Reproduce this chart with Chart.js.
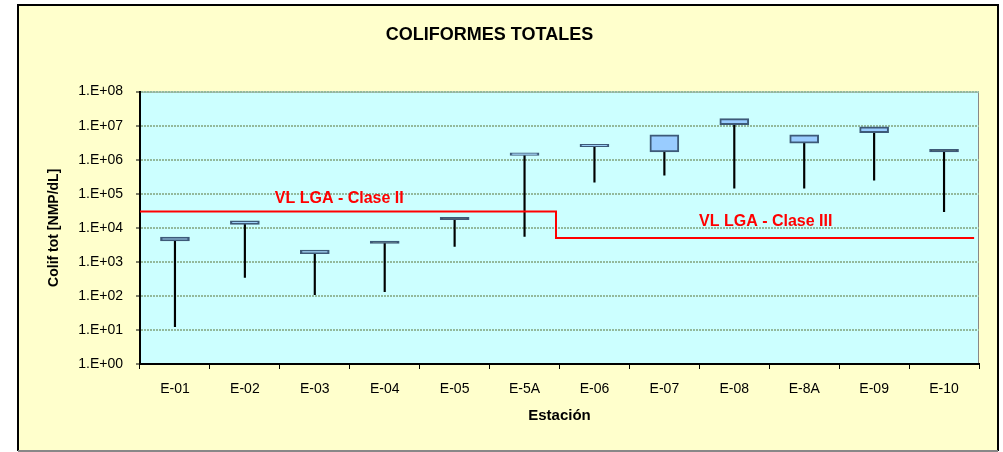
<!DOCTYPE html>
<html>
<head>
<meta charset="utf-8">
<script src="https://cdn.jsdelivr.net/npm/chart.js@4/dist/chart.umd.min.js"></script>
<style>
  body { margin: 0; background: #fff; }
</style>
</head>
<body>
<canvas id="coliformes-chart" width="1003" height="452"></canvas>
<script>
const stations = ["E-01", "E-02", "E-03", "E-04", "E-05", "E-5A", "E-06", "E-07", "E-08", "E-8A", "E-09", "E-10"];
const minValues = [12.5, 350, 108, 134, 2840, 5600, 220000, 350000, 145000, 145000, 250000, 30000];
const boxLow = [4100, 12600, 1730, 3480, 17400, 1330000, 2400000, 1700000, 10700000, 3060000, 6200000, 1700000];
const boxHigh = [5370, 15900, 2220, 3480, 17400, 1600000, 2800000, 5400000, 16000000, 5400000, 9300000, 1700000];

// limit line: x in station units (0 = left edge of E-01)
const limitX = [0, 5.95, 5.95, 11.93];
const limitY = [30000, 30000, 5000, 5000];
const limitLabels = ["VL LGA - Clase II", "VL LGA - Clase III"];
const limitLabelX = [2.85, 8.95];
const limitLabelY = [72000, 15000];

const yTicks = [1, 10, 100, 1e3, 1e4, 1e5, 1e6, 1e7, 1e8];
const yTickLabels = ["1.E+00", "1.E+01", "1.E+02", "1.E+03", "1.E+04", "1.E+05", "1.E+06", "1.E+07", "1.E+08"];

Chart.defaults.font.family = 'Arial, "Liberation Sans", sans-serif';
Chart.defaults.color = "#000";

const background = {
  id: "background",
  beforeDraw(chart) {
    const { ctx, chartArea: a } = chart;
    ctx.save();
    ctx.fillStyle = "#fff";
    ctx.fillRect(0, 0, chart.width, chart.height);
    ctx.fillStyle = "#ffffcc";
    ctx.fillRect(18, 5, 980, 446);
    ctx.strokeStyle = "#000";
    ctx.lineWidth = 2;
    ctx.beginPath();
    ctx.moveTo(18, 451);
    ctx.lineTo(18, 5);
    ctx.lineTo(998, 5);
    ctx.lineTo(998, 451);
    ctx.stroke();
    ctx.strokeStyle = "#888";
    ctx.beginPath();
    ctx.moveTo(18, 451);
    ctx.lineTo(998, 451);
    ctx.stroke();
    ctx.fillStyle = "#ccffff";
    ctx.fillRect(a.left, a.top, a.right - a.left, a.bottom - a.top);
    ctx.strokeStyle = "#888";
    ctx.lineWidth = 1;
    ctx.beginPath();
    ctx.moveTo(a.left, a.top + 0.5);
    ctx.lineTo(a.right - 0.5, a.top + 0.5);
    ctx.lineTo(a.right - 0.5, a.bottom);
    ctx.stroke();
    ctx.restore();
  },
  afterDatasetsDraw(chart) {
    const { ctx, scales } = chart;
    ctx.save();
    ctx.fillStyle = "#ff0000";
    ctx.font = 'bold 16px Arial, "Liberation Sans", sans-serif';
    ctx.textAlign = "center";
    ctx.textBaseline = "middle";
    limitLabels.forEach((t, i) => {
      ctx.fillText(t, scales.xl.getPixelForValue(limitLabelX[i]), scales.y.getPixelForValue(limitLabelY[i]));
    });
    ctx.restore();
  },
};

new Chart(document.getElementById("coliformes-chart"), {
  type: "bar",
  data: {
    labels: stations,
    datasets: [
      {
        type: "line",
        label: "VL LGA",
        xAxisID: "xl",
        data: limitX.map((x, i) => ({ x, y: limitY[i] })),
        borderColor: "#ff0000",
        borderWidth: 2,
        pointRadius: 0,
        fill: false,
      },
      {
        label: "Caja",
        data: stations.map((s, i) => [boxLow[i], boxHigh[i]]),
        // a box with no height is drawn by Excel as a dark cap
        backgroundColor: (c) => (boxLow[c.dataIndex] === boxHigh[c.dataIndex] ? "#2e3f50" : "#99ccff"),
        borderColor: "#3d5a78",
        borderWidth: 2,
        borderSkipped: false,
        barThickness: 29,
        minBarLength: 2.4,
        grouped: false,
      },
      {
        label: "Rango",
        data: stations.map((s, i) => [minValues[i], boxLow[i]]),
        backgroundColor: "#000",
        barThickness: 1.5,
        grouped: false,
      },
    ],
  },
  options: {
    responsive: false,
    animation: false,
    layout: { padding: { left: 0, right: 24, top: 0, bottom: 0 } },
    plugins: {
      legend: { display: false },
      tooltip: { enabled: false },
      title: {
        display: true,
        text: "COLIFORMES TOTALES",
        font: { size: 18, weight: "bold" },
        padding: { top: 24, bottom: 46 },
      },
    },
    scales: {
      x: {
        offset: true,
        grid: { offset: true, drawOnChartArea: false, tickLength: 5, tickColor: "#000", tickWidth: 1 },
        border: { color: "#000", width: 2 },
        ticks: { font: { size: 14 }, padding: 12 },
        title: { display: true, text: "Estación", font: { size: 15, weight: "bold" }, padding: { top: 0, bottom: 27 } },
        afterFit: (scale) => { scale.height = 88; },
      },
      xl: {
        type: "linear",
        display: false,
        min: 0,
        max: 12,
        offset: false,
      },
      y: {
        type: "logarithmic",
        min: 1,
        max: 1e8,
        afterBuildTicks: (scale) => { scale.ticks = yTicks.map((v) => ({ value: v })); },
        ticks: {
          font: { size: 14 },
          padding: 13,
          autoSkip: false,
          callback: (v) => yTickLabels[yTicks.indexOf(v)],
        },
        grid: { color: "#93b99c", lineWidth: 2, tickLength: 4, tickColor: "#000", tickWidth: 1 },
        border: { color: "#000", width: 2, dash: [2, 1] },
        title: { display: true, text: "Colif tot [NMP/dL]", font: { size: 14, weight: "bold" }, padding: { top: 46 } },
        afterFit: (scale) => { scale.width = 140; },
      },
    },
  },
  plugins: [background],
});
</script>
</body>
</html>
